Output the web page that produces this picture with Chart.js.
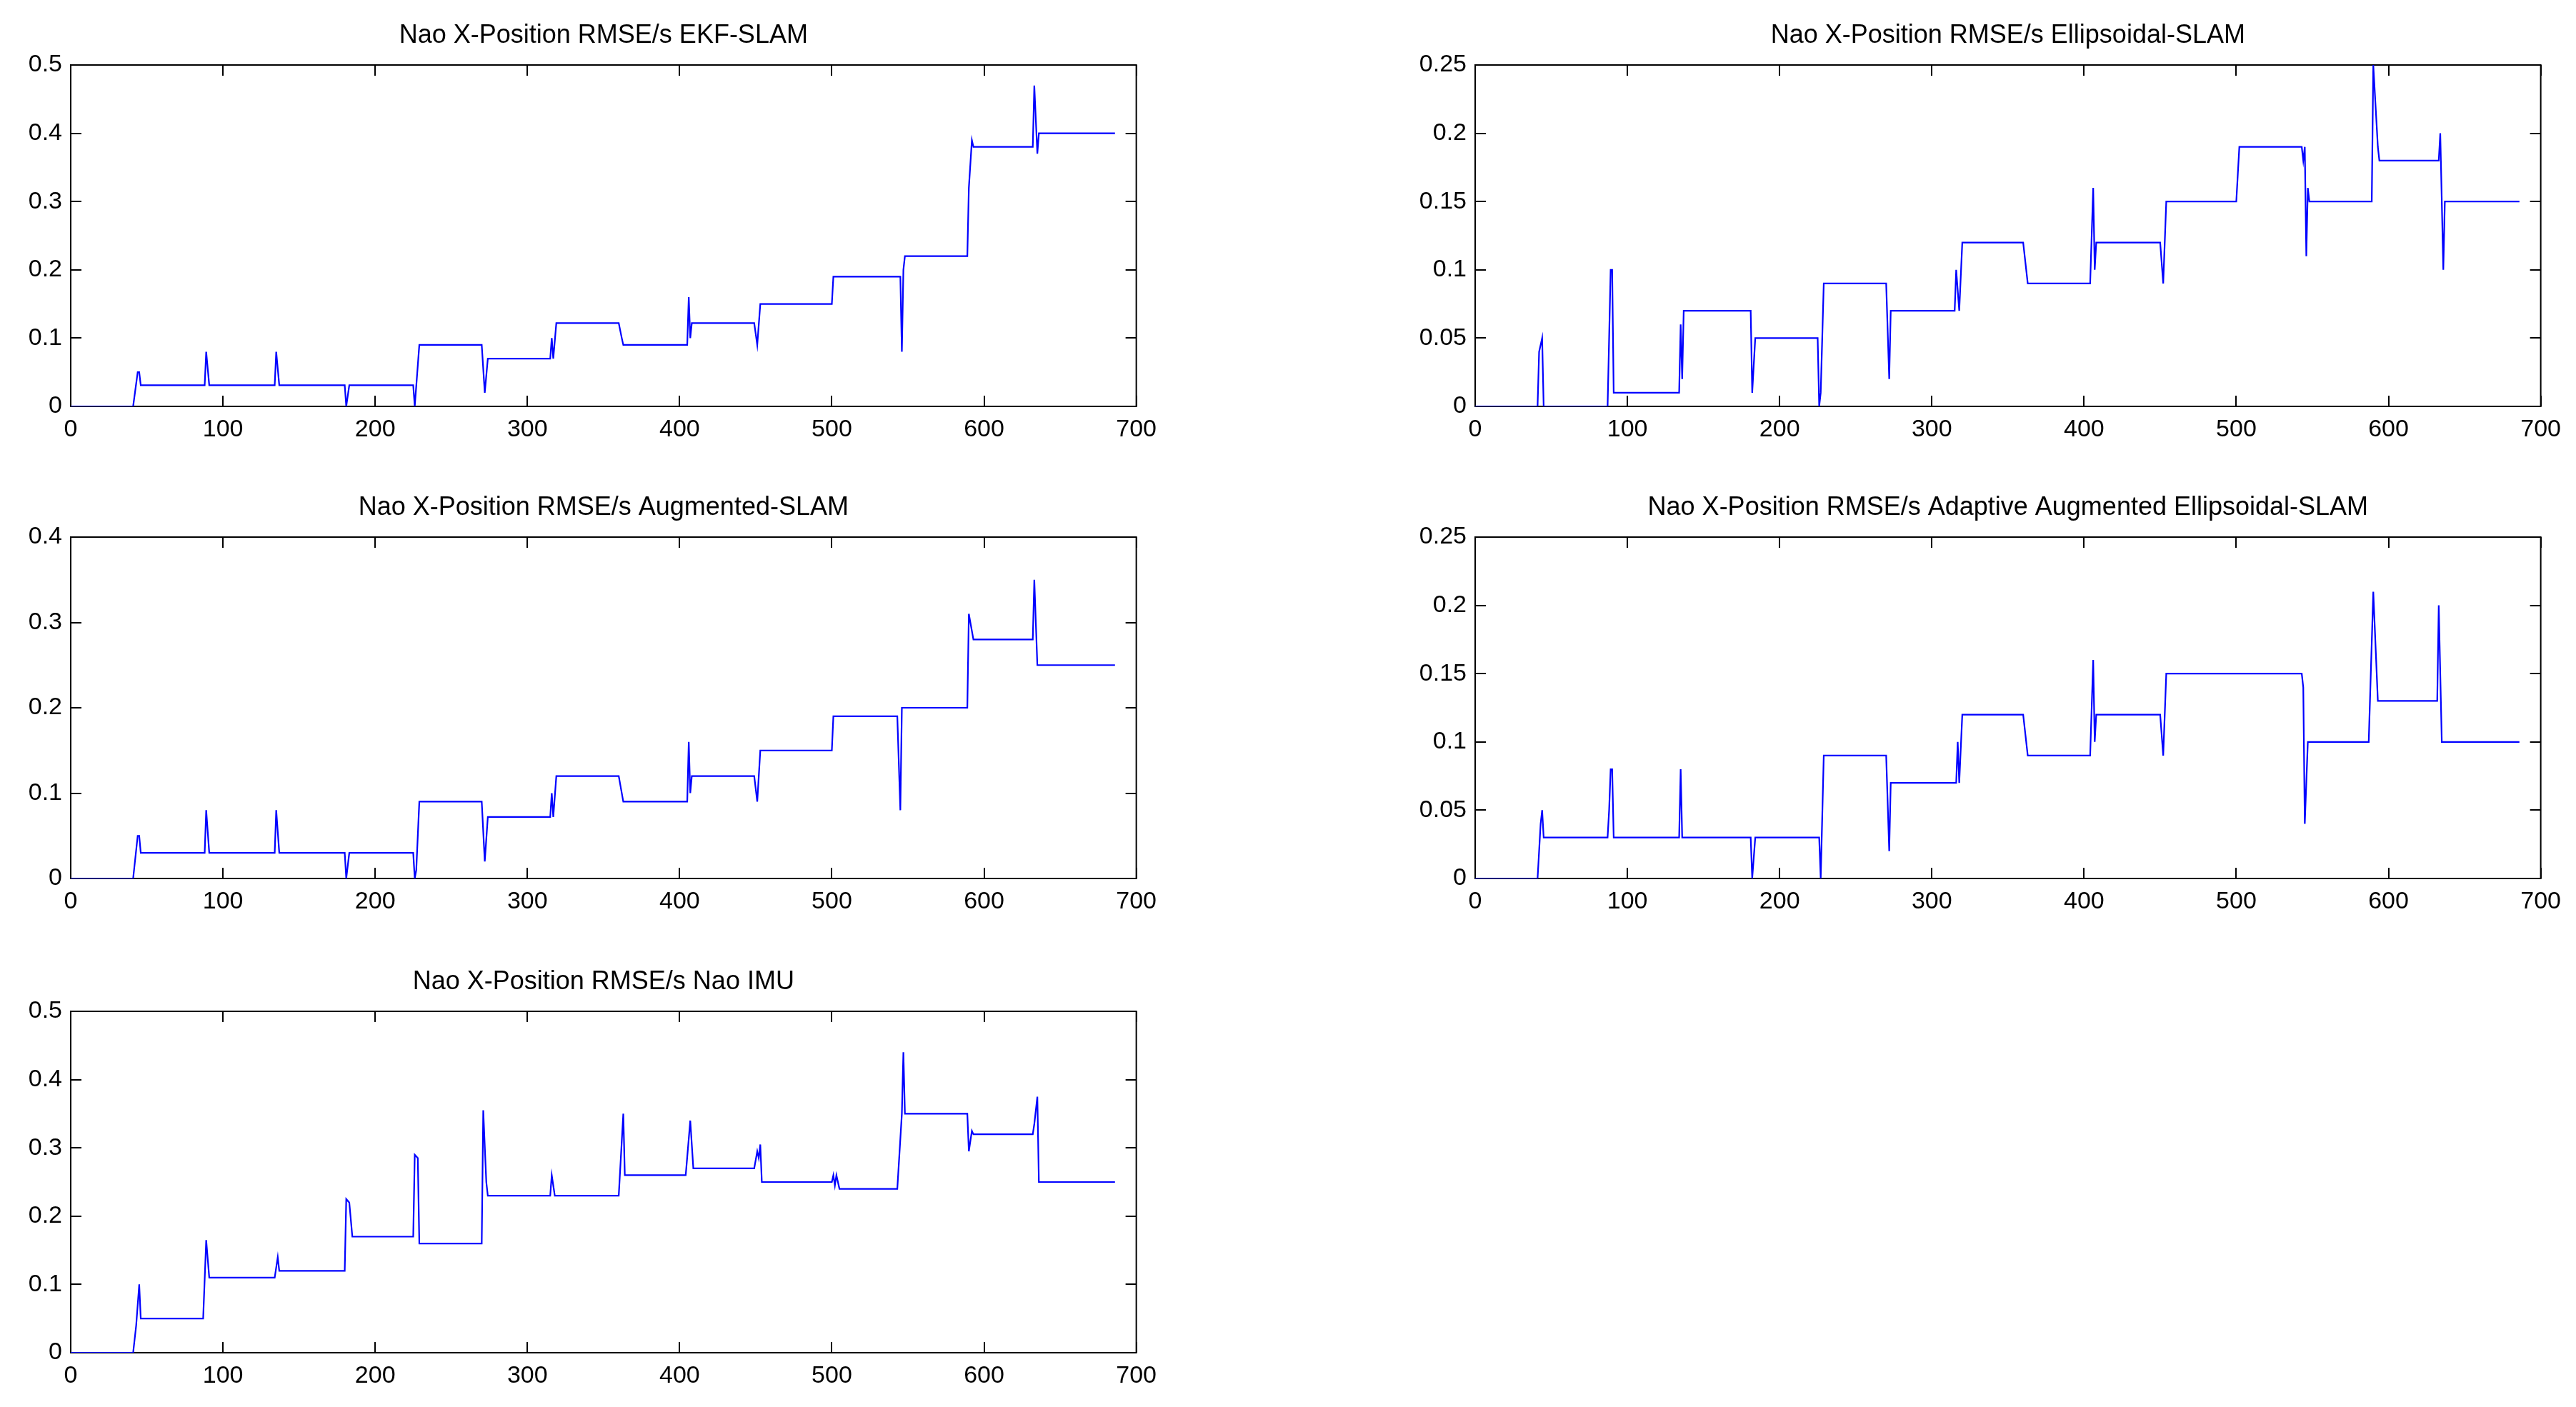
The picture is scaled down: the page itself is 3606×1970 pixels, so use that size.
<!DOCTYPE html>
<html>
<head>
<meta charset="utf-8">
<title>Nao X-Position RMSE/s</title>
<script src="https://cdn.jsdelivr.net/npm/chart.js@4.4.1/dist/chart.umd.min.js"></script>
<style>
  html, body { margin: 0; padding: 0; background: #fff; }
  body { width: 3606px; height: 1970px; position: relative; overflow: hidden; }
  canvas { position: absolute; }
</style>
</head>
<body>
<canvas id="ekfChart"></canvas>
<canvas id="ellChart"></canvas>
<canvas id="augChart"></canvas>
<canvas id="adaChart"></canvas>
<canvas id="imuChart"></canvas>
<script>
// corners of each RMSE trace (x = step, y = RMSE/s)
var xTicks = [0, 100, 200, 300, 400, 500, 600, 700];
var yTicksHalf = [0, 0.1, 0.2, 0.3, 0.4, 0.5];
var yTicksFour = [0, 0.1, 0.2, 0.3, 0.4];
var yTicksQuarter = [0, 0.05, 0.1, 0.15, 0.2, 0.25];

var ekfX = [0, 41, 44, 45, 46, 88, 89, 91, 134, 135, 137, 180, 181, 183, 225, 226, 229, 270, 272, 274, 315, 316, 317, 319, 360, 362, 363, 405, 406, 407, 408, 449, 451, 453, 500, 501, 545, 546, 547, 548, 589, 590, 592, 593, 632, 633, 635, 636, 686];
var ekfY = [0, 0, 0.05, 0.05, 0.031, 0.031, 0.08, 0.031, 0.031, 0.08, 0.031, 0.031, 0, 0.031, 0.031, 0, 0.09, 0.09, 0.02, 0.07, 0.07, 0.1, 0.07, 0.122, 0.122, 0.1, 0.09, 0.09, 0.16, 0.1, 0.122, 0.122, 0.09, 0.15, 0.15, 0.19, 0.19, 0.08, 0.2, 0.22, 0.22, 0.32, 0.39, 0.38, 0.38, 0.47, 0.37, 0.4, 0.4];

var ellX = [0, 41, 42, 44, 45, 87, 89, 90, 91, 134, 135, 136, 137, 181, 182, 184, 225, 226, 227, 229, 270, 272, 273, 315, 316, 318, 320, 360, 363, 404, 406, 407, 408, 450, 452, 454, 500, 501, 502, 543, 544, 545, 546, 547, 548, 589, 590, 593, 594, 633, 634, 636, 637, 686];
var ellY = [0, 0, 0.04, 0.05, 0, 0, 0.1, 0.1, 0.01, 0.01, 0.06, 0.02, 0.07, 0.07, 0.01, 0.05, 0.05, 0, 0.01, 0.09, 0.09, 0.02, 0.07, 0.07, 0.1, 0.07, 0.12, 0.12, 0.09, 0.09, 0.16, 0.1, 0.12, 0.12, 0.09, 0.15, 0.15, 0.17, 0.19, 0.19, 0.18, 0.19, 0.11, 0.16, 0.15, 0.15, 0.25, 0.19, 0.18, 0.18, 0.2, 0.1, 0.15, 0.15];

var augX = [0, 41, 44, 45, 46, 88, 89, 91, 134, 135, 137, 180, 181, 183, 225, 226, 227, 229, 270, 272, 274, 315, 316, 317, 319, 360, 363, 405, 406, 407, 408, 449, 451, 453, 500, 501, 543, 545, 546, 589, 590, 593, 632, 633, 635, 686];
var augY = [0, 0, 0.05, 0.05, 0.03, 0.03, 0.08, 0.03, 0.03, 0.08, 0.03, 0.03, 0, 0.03, 0.03, 0, 0.01, 0.09, 0.09, 0.02, 0.072, 0.072, 0.1, 0.072, 0.12, 0.12, 0.09, 0.09, 0.16, 0.1, 0.12, 0.12, 0.09, 0.15, 0.15, 0.19, 0.19, 0.08, 0.2, 0.2, 0.31, 0.28, 0.28, 0.35, 0.25, 0.25];

var adaX = [0, 41, 43, 44, 45, 87, 88, 89, 90, 91, 134, 135, 136, 181, 182, 184, 226, 227, 229, 270, 272, 273, 316, 317, 318, 320, 360, 363, 404, 406, 407, 408, 450, 452, 454, 543, 544, 545, 547, 587, 590, 593, 632, 633, 635, 686];
var adaY = [0, 0, 0.04, 0.05, 0.03, 0.03, 0.05, 0.08, 0.08, 0.03, 0.03, 0.08, 0.03, 0.03, 0, 0.03, 0.03, 0, 0.09, 0.09, 0.02, 0.07, 0.07, 0.1, 0.07, 0.12, 0.12, 0.09, 0.09, 0.16, 0.1, 0.12, 0.12, 0.09, 0.15, 0.15, 0.14, 0.04, 0.1, 0.1, 0.21, 0.13, 0.13, 0.2, 0.1, 0.1];

var imuX = [0, 41, 43, 45, 46, 87, 89, 91, 134, 136, 137, 180, 181, 183, 185, 225, 226, 228, 229, 270, 271, 273, 274, 315, 316, 317, 318, 360, 363, 364, 404, 407, 409, 449, 451, 452, 453, 454, 500, 501, 502, 503, 505, 543, 546, 547, 548, 589, 590, 592, 593, 632, 633, 635, 636, 686];
var imuY = [0, 0, 0.04, 0.1, 0.05, 0.05, 0.165, 0.11, 0.11, 0.14, 0.12, 0.12, 0.225, 0.22, 0.17, 0.17, 0.29, 0.285, 0.16, 0.16, 0.355, 0.25, 0.23, 0.23, 0.26, 0.245, 0.23, 0.23, 0.35, 0.26, 0.26, 0.34, 0.27, 0.27, 0.295, 0.285, 0.305, 0.25, 0.25, 0.26, 0.245, 0.26, 0.24, 0.24, 0.35, 0.44, 0.35, 0.35, 0.295, 0.325, 0.32, 0.32, 0.335, 0.375, 0.25, 0.25];

var FONT = "'Liberation Sans', Arial, Helvetica, sans-serif";
var TICK_LEN = 15;
var Y_AXIS_W = 99, X_AXIS_H = 70, TITLE_H = 90, RIGHT_PAD = 40;
var PLOT_W = 1492, PLOT_H = 478;

// matlab style box with inward ticks on all four sides, drawn under the trace
var matlabBox = {
  id: 'matlabBox',
  beforeDatasetsDraw: function (chart) {
    var ctx = chart.ctx, a = chart.chartArea;
    var xs = chart.scales.x, ys = chart.scales.y;
    ctx.save();
    ctx.strokeStyle = '#000';
    ctx.lineWidth = 2;
    ctx.strokeRect(a.left, a.top, a.right - a.left, a.bottom - a.top);
    ctx.beginPath();
    xs.ticks.forEach(function (t, i) {
      var px = Math.round(xs.getPixelForTick(i));
      ctx.moveTo(px, a.bottom); ctx.lineTo(px, a.bottom - TICK_LEN);
      ctx.moveTo(px, a.top); ctx.lineTo(px, a.top + TICK_LEN);
    });
    ys.ticks.forEach(function (t, i) {
      var py = Math.round(ys.getPixelForTick(i));
      ctx.moveTo(a.left, py); ctx.lineTo(a.left + TICK_LEN, py);
      ctx.moveTo(a.right, py); ctx.lineTo(a.right - TICK_LEN, py);
    });
    ctx.stroke();
    ctx.restore();
  }
};

function makeChart(id, title, xs, ys, yTicks, left, top) {
  var el = document.getElementById(id);
  var w = Y_AXIS_W + PLOT_W + RIGHT_PAD, h = TITLE_H + PLOT_H + X_AXIS_H;
  el.width = w; el.height = h;
  el.style.width = w + 'px'; el.style.height = h + 'px';
  el.style.left = left + 'px'; el.style.top = top + 'px';
  var pts = xs.map(function (x, i) { return { x: x, y: ys[i] }; });
  return new Chart(el, {
    type: 'line',
    data: {
      datasets: [{
        data: pts,
        borderColor: '#0000ff',
        borderWidth: 2.2,
        pointRadius: 0,
        tension: 0,
        fill: false
      }]
    },
    options: {
      responsive: false,
      animation: false,
      devicePixelRatio: 1,
      layout: { padding: { left: 0, right: RIGHT_PAD, top: 0, bottom: 0 } },
      plugins: {
        legend: { display: false },
        tooltip: { enabled: false },
        title: {
          display: true,
          fullSize: false,   // centre over the plot box, like matlab
          text: title,
          color: '#000',
          font: { family: FONT, size: 36, weight: 'normal', lineHeight: 1 },
          padding: { top: 31, bottom: 23 }
        }
      },
      scales: {
        x: {
          type: 'linear',
          min: xTicks[0],
          max: xTicks[xTicks.length - 1],
          grid: { display: false, drawTicks: false },
          border: { display: false },
          afterBuildTicks: function (s) { s.ticks = xTicks.map(function (v) { return { value: v }; }); },
          afterFit: function (s) { s.height = X_AXIS_H; },
          ticks: {
            color: '#000',
            padding: 12,
            maxRotation: 0,
            autoSkip: false,
            font: { family: FONT, size: 34 },
            callback: function (v) { return String(v); }
          }
        },
        y: {
          min: yTicks[0],
          max: yTicks[yTicks.length - 1],
          grid: { display: false, drawTicks: false },
          border: { display: false },
          afterBuildTicks: function (s) { s.ticks = yTicks.map(function (v) { return { value: v }; }); },
          afterFit: function (s) { s.width = Y_AXIS_W; },
          ticks: {
            color: '#000',
            padding: 12,
            autoSkip: false,
            font: { family: FONT, size: 34 },
            callback: function (v) { return String(+v.toFixed(2)); }
          }
        }
      }
    },
    plugins: [matlabBox]
  });
}

makeChart('ekfChart', 'Nao X-Position RMSE/s EKF-SLAM', ekfX, ekfY, yTicksHalf, 0, 1);
makeChart('ellChart', 'Nao X-Position RMSE/s Ellipsoidal-SLAM', ellX, ellY, yTicksQuarter, 1966, 1);
makeChart('augChart', 'Nao X-Position RMSE/s Augmented-SLAM', augX, augY, yTicksFour, 0, 662);
makeChart('adaChart', 'Nao X-Position RMSE/s Adaptive Augmented Ellipsoidal-SLAM', adaX, adaY, yTicksQuarter, 1966, 662);
makeChart('imuChart', 'Nao X-Position RMSE/s Nao IMU', imuX, imuY, yTicksHalf, 0, 1326);
</script>
</body>
</html>
